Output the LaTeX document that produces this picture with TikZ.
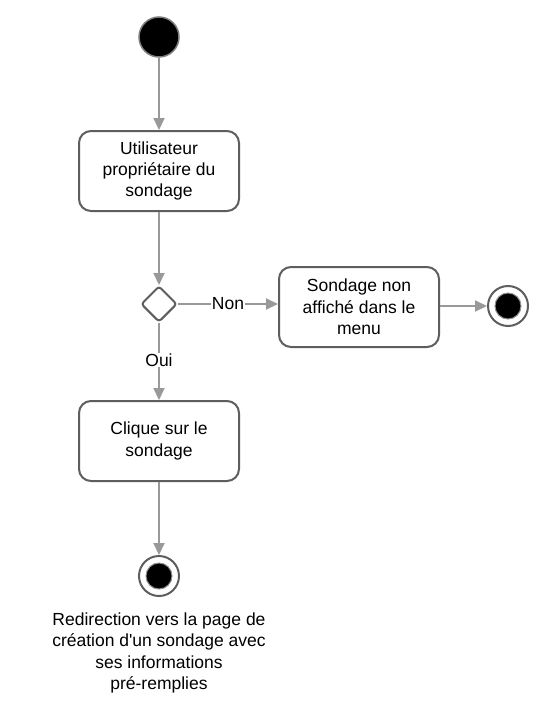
\documentclass[tikz,border=0pt]{standalone}
\usepackage{fontspec}
\setmainfont{Liberation Sans}
\usetikzlibrary{shapes.geometric,arrows.meta}
\definecolor{edgegray}{HTML}{999999}
\definecolor{boxgray}{HTML}{5E5E5E}
\tikzset{
  actbox/.style={draw=boxgray,line width=2pt,rounded corners=12pt,fill=white,
    minimum width=160pt,minimum height=80pt,align=center,inner sep=2pt,
    font=\fontsize{17.5pt}{21.3pt}\selectfont},
  decision/.style={diamond,draw=boxgray,line width=2pt,rounded corners=3pt,fill=white,
    minimum width=36pt,minimum height=36pt,inner sep=0pt},
  startnode/.style={circle,draw=boxgray!80,line width=1.5pt,fill=black,minimum size=40pt,inner sep=0pt},
  endouter/.style={circle,draw=boxgray,line width=2pt,fill=white,minimum size=40pt,inner sep=0pt},
  endinner/.style={circle,draw=boxgray!70,line width=1pt,fill=black,minimum size=26pt,inner sep=0pt},
  flow/.style={draw=edgegray,line width=2pt,-{Triangle[length=12pt,width=11pt]}},
  lbl/.style={fill=white,inner sep=1pt,font=\fontsize{17.5pt}{21.3pt}\selectfont},
  notetext/.style={align=center,font=\fontsize{17.5pt}{21.3pt}\selectfont}
}
\begin{document}
\begin{tikzpicture}[x=1pt,y=-1pt]
\useasboundingbox[fill=white] (0,0) rectangle (555,709);
\node[startnode] (start) at (159,37) {};
\node[actbox] (owner) at (159,171) {Utilisateur\\propriétaire du\\sondage};
\node[decision] (dec) at (159,304) {};
\node[actbox] (hidden) at (359,307) {Sondage non\\affiché dans le\\menu};
\node[endouter] (end1) at (508,306) {};
\node[endinner] (end1i) at (508,306) {};
\node[actbox] (click) at (159,441) {Clique sur le\\sondage};
\node[endouter] (end2) at (159,576) {};
\node[endinner] (end2i) at (159,576) {};
\node[notetext] (note) at (159,653) {Redirection vers la page de\\création d\textquotesingle un sondage avec\\ses informations\\pré-remplies};

\draw[flow] (start) -- (owner);
\draw[flow] (owner) -- (dec);
\draw[flow] (dec.east) -- node[lbl] (nonlbl) {Non} (dec.east -| hidden.west);
\draw[flow] (hidden.east |- end1) -- (end1);
\draw[flow] (dec) -- node[lbl,pos=0.48] (ouilbl) {Oui} (click);
\draw[flow] (click) -- (end2);
\end{tikzpicture}
\end{document}
